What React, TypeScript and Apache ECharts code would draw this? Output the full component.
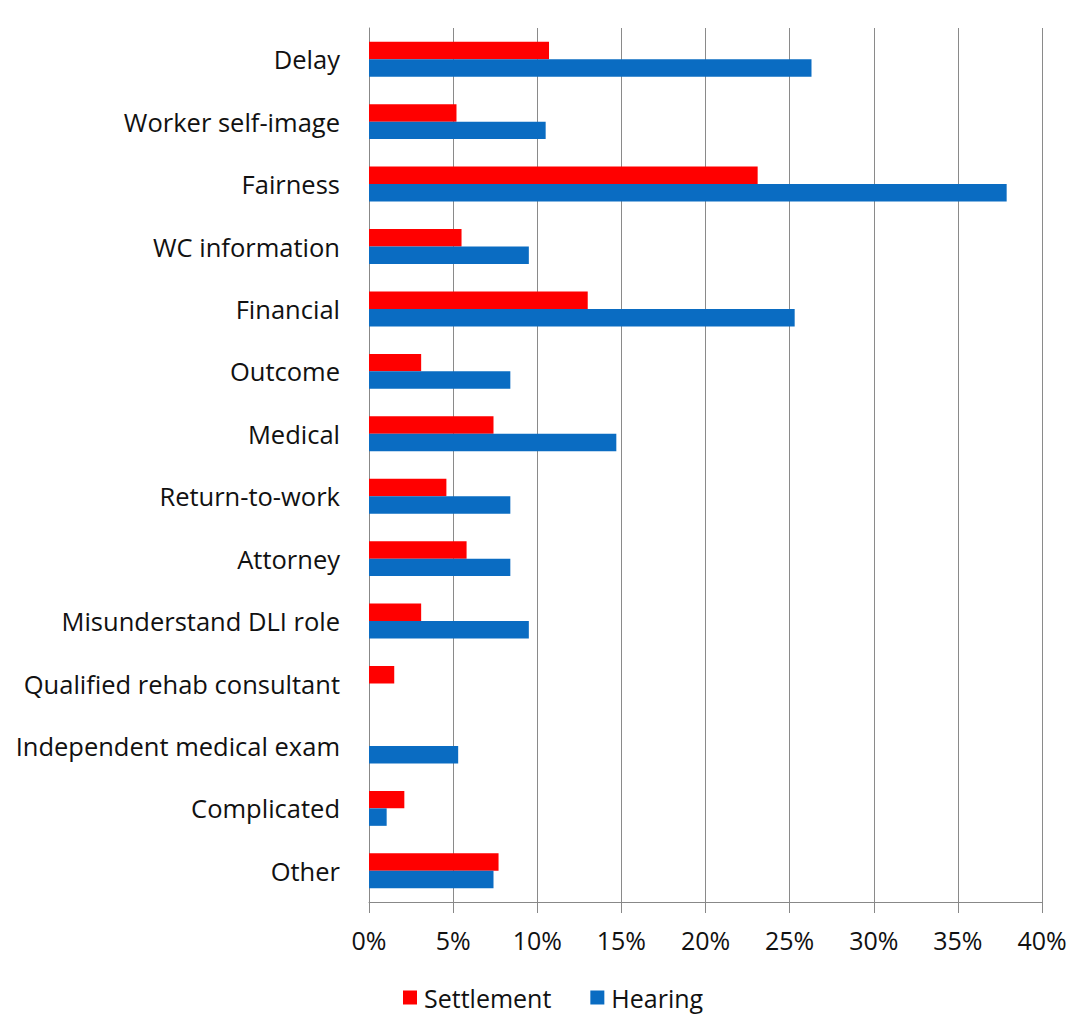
import React, { useEffect, useRef } from "react";
import * as echarts from "echarts";

const categories = [
  "Delay",
  "Worker self-image",
  "Fairness",
  "WC information",
  "Financial",
  "Outcome",
  "Medical",
  "Return-to-work",
  "Attorney",
  "Misunderstand DLI role",
  "Qualified rehab consultant",
  "Independent medical exam",
  "Complicated",
  "Other",
];

const settlement = [10.7, 5.2, 23.1, 5.5, 13.0, 3.1, 7.4, 4.6, 5.8, 3.1, 1.5, 0, 2.1, 7.7];
const hearing = [26.3, 10.5, 37.9, 9.5, 25.3, 8.4, 14.7, 8.4, 8.4, 9.5, 0, 5.3, 1.05, 7.4];

const xTicks = [0, 5, 10, 15, 20, 25, 30, 35, 40];

const FONT = "'Open Sans', sans-serif";

export default function App() {
  const ref = useRef<HTMLDivElement>(null);
  useEffect(() => {
    if (!ref.current) return;
    const chart = echarts.init(ref.current, undefined, { renderer: "svg" });
    chart.setOption({
      animation: false,
      backgroundColor: "#ffffff",
      textStyle: { fontFamily: FONT },
      grid: { left: 369, right: 34, top: 28, bottom: 113, containLabel: false },
      legend: {
        data: ["Settlement", "Hearing"],
        left: 403,
        top: 985,
        padding: 0,
        itemWidth: 14,
        itemHeight: 14,
        itemGap: 39,
        icon: "rect",
        textStyle: { fontSize: 25, color: "#111", fontFamily: FONT, lineHeight: 25, padding: [0, 0, 0, 2] },
      },
      xAxis: {
        type: "value",
        min: xTicks[0],
        max: xTicks[xTicks.length - 1],
        interval: 5,
        axisLine: { show: true, lineStyle: { color: "#888", width: 1 } },
        axisTick: { show: true, length: 11, lineStyle: { color: "#888" } },
        axisLabel: {
          margin: 25,
          fontSize: 25,
          color: "#111",
          fontFamily: FONT,
          formatter: (v: number) => `${v}%`,
        },
        splitLine: { show: true, lineStyle: { color: "#8a8a8a", width: 1 } },
      },
      yAxis: {
        type: "category",
        data: categories,
        inverse: true,
        axisLine: { show: true, lineStyle: { color: "#888", width: 1 } },
        axisTick: { show: false },
        axisLabel: { margin: 29, fontSize: 25.5, color: "#111", fontFamily: FONT },
      },
      series: [
        {
          name: "Settlement",
          type: "bar",
          data: settlement,
          itemStyle: { color: "#ff0000" },
          barGap: "0%",
          barCategoryGap: "44%",
        },
        {
          name: "Hearing",
          type: "bar",
          data: hearing,
          itemStyle: { color: "#0a6cc2" },
          barGap: "0%",
          barCategoryGap: "44%",
        },
      ],
    });
    return () => chart.dispose();
  }, []);
  return <div ref={ref} style={{ width: 1076, height: 1015, position: "absolute", left: 0, top: 0 }} />;
}
